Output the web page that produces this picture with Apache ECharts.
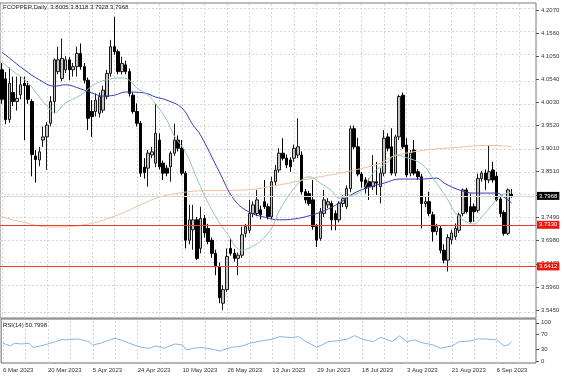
<!DOCTYPE html>
<html>
<head>
<meta charset="utf-8">
<script src="https://cdn.jsdelivr.net/npm/echarts@6/dist/echarts.min.js"></script>
<style>
html, body { margin: 0; padding: 0; background: #fff; }
#chart { width: 564px; height: 376px; }
</style>
</head>
<body>
<div id="chart"></div>
<script>
// daily bars (index 0 = first bar on the left)
var opens = [4.075,4.055,3.965,4.025,4.005,4.020,4.045,4.040,4.005,3.885,3.876,3.920,3.927,3.957,4.005,4.071,4.056,4.075,4.097,4.075,
  4.082,4.111,4.082,4.052,3.983,3.983,3.979,3.986,4.016,4.067,4.126,4.115,4.071,4.086,4.071,4.019,3.983,3.957,3.860,3.858,
  3.887,3.869,3.920,3.869,3.858,3.861,3.891,3.920,3.902,3.847,3.699,3.722,3.744,3.681,3.747,3.725,3.699,3.670,3.641,3.560,
  3.590,3.681,3.670,3.659,3.666,3.714,3.721,3.758,3.758,3.766,3.784,3.773,3.751,3.828,3.854,3.891,3.880,3.876,3.880,3.887,
  3.887,3.806,3.802,3.788,3.729,3.703,3.758,3.777,3.780,3.758,3.744,3.780,3.773,3.813,3.945,3.905,3.845,3.832,3.828,3.817,
  3.828,3.817,3.847,3.927,3.905,3.847,3.927,4.019,3.909,3.847,3.898,3.850,3.839,3.780,3.784,3.755,3.718,3.725,3.677,3.655,
  3.700,3.707,3.721,3.758,3.810,3.773,3.773,3.765,3.835,3.847,3.832,3.854,3.840,3.790,3.760,3.714,3.8005];
var highs = [4.090,4.070,4.080,4.060,4.060,4.060,4.060,4.050,4.010,3.898,3.905,3.950,3.960,4.017,4.100,4.126,4.144,4.105,4.103,4.090,
  4.126,4.133,4.090,4.058,4.008,4.023,4.025,4.040,4.075,4.141,4.192,4.120,4.104,4.095,4.078,4.025,4.001,3.962,3.880,3.898,
  3.905,4.000,3.935,3.875,3.865,3.895,3.956,3.930,3.920,3.852,3.777,3.777,3.750,3.773,3.755,3.735,3.705,3.678,3.650,3.600,
  3.681,3.703,3.680,3.672,3.729,3.735,3.788,3.785,3.810,3.775,3.832,3.780,3.839,3.865,3.902,3.924,3.888,3.882,3.910,3.968,
  3.895,3.812,3.808,3.832,3.735,3.770,3.810,3.792,3.786,3.765,3.785,3.798,3.820,3.952,3.952,3.925,3.850,3.838,3.835,3.887,
  3.872,3.858,3.942,3.935,3.946,3.932,4.020,4.025,3.924,3.898,3.920,3.856,3.845,3.795,3.806,3.762,3.735,3.732,3.690,3.712,
  3.722,3.736,3.760,3.813,3.815,3.802,3.780,3.846,3.852,3.855,3.909,3.872,3.850,3.795,3.765,3.813,3.8118];
var lows = [4.000,3.955,3.958,3.995,3.985,4.010,3.920,4.000,3.840,3.826,3.862,3.905,3.854,3.950,3.979,4.065,4.050,4.068,4.052,4.060,
  4.060,4.075,4.045,3.942,3.927,3.972,3.970,3.980,4.010,4.060,4.108,4.065,4.065,4.065,4.016,3.978,3.950,3.839,3.835,3.817,
  3.880,3.860,3.855,3.832,3.840,3.828,3.885,3.895,3.842,3.681,3.690,3.678,3.655,3.670,3.705,3.690,3.660,3.622,3.560,3.545,
  3.585,3.665,3.652,3.622,3.660,3.705,3.715,3.750,3.752,3.745,3.768,3.745,3.745,3.820,3.848,3.875,3.858,3.850,3.872,3.880,
  3.800,3.780,3.775,3.722,3.684,3.698,3.750,3.770,3.721,3.721,3.738,3.772,3.768,3.805,3.900,3.840,3.815,3.802,3.788,3.810,
  3.799,3.780,3.840,3.895,3.842,3.840,3.920,3.900,3.838,3.840,3.842,3.832,3.725,3.772,3.752,3.696,3.710,3.670,3.648,3.630,
  3.690,3.700,3.715,3.752,3.758,3.738,3.740,3.760,3.828,3.810,3.825,3.826,3.785,3.750,3.709,3.710,3.7928];
var closes = [4.010,3.965,4.045,4.005,4.012,4.042,4.040,4.010,3.888,3.877,3.894,3.927,3.953,4.005,4.097,4.097,4.100,4.097,4.075,4.082,
  4.111,4.082,4.052,3.968,3.972,4.008,4.016,4.030,4.067,4.126,4.115,4.071,4.089,4.071,4.023,3.983,3.957,3.847,3.848,3.891,
  3.894,3.935,3.861,3.847,3.847,3.891,3.920,3.902,3.847,3.699,3.744,3.744,3.659,3.747,3.715,3.696,3.670,3.641,3.572,3.590,
  3.663,3.670,3.659,3.666,3.711,3.729,3.758,3.777,3.788,3.755,3.773,3.751,3.828,3.854,3.891,3.880,3.865,3.861,3.902,3.905,
  3.806,3.788,3.780,3.729,3.699,3.762,3.788,3.784,3.744,3.744,3.780,3.791,3.813,3.945,3.905,3.845,3.829,3.813,3.817,3.828,
  3.825,3.847,3.924,3.902,3.847,3.927,4.016,3.905,3.843,3.891,3.847,3.839,3.780,3.784,3.758,3.718,3.729,3.677,3.655,3.705,
  3.715,3.725,3.755,3.810,3.762,3.740,3.762,3.835,3.847,3.832,3.850,3.832,3.788,3.758,3.714,3.810,3.7968];

// moving averages and RSI, sampled as [bar index, value]
var maFast = [[0,4.092],[3,4.072],[7,4.046],[10,4.015],[13,3.986],[14,3.980],[17,4.002],[21,4.019],[24,4.039],[26,4.048],
  [29,4.055],[32,4.057],[34,4.052],[36,4.035],[39,4.019],[41,4.000],[44,3.964],[46,3.929],[49,3.894],[52,3.836],
  [56,3.766],[60,3.715],[64,3.677],[66,3.682],[69,3.697],[72,3.726],[74,3.764],[77,3.803],[80,3.832],[82,3.839],
  [85,3.825],[88,3.808],[90,3.792],[93,3.797],[96,3.808],[99,3.847],[103,3.872],[105,3.887],[108,3.881],[112,3.867],
  [115,3.836],[119,3.788],[121,3.759],[124,3.739],[126,3.735],[128,3.750],[131,3.779],[133,3.797],[136,3.805]];
var maMid = [[0,4.114],[2,4.101],[6,4.075],[10,4.053],[14,4.039],[17,4.042],[21,4.033],[24,4.024],[27,4.017],[30,4.019],
  [33,4.026],[38,4.024],[41,4.015],[44,4.008],[48,3.991],[51,3.953],[53,3.931],[58,3.850],[62,3.788],[66,3.761],
  [70,3.750],[74,3.744],[78,3.746],[82,3.753],[86,3.764],[90,3.781],[94,3.803],[98,3.816],[102,3.825],[106,3.834],
  [112,3.834],[116,3.836],[118,3.825],[122,3.810],[126,3.803],[132,3.803],[134,3.794],[136,3.781]];
var maSlow = [[0,3.751],[5,3.740],[13,3.728],[22,3.733],[31,3.755],[37,3.777],[42,3.794],[48,3.804],[53,3.808],[65,3.810],
  [74,3.821],[83,3.836],[92,3.850],[101,3.869],[104,3.883],[113,3.898],[122,3.904],[129,3.908],[134,3.907],[136,3.905]];
var rsi = [[0,46.6],[2,39.5],[3,46.6],[5,44.7],[7,46.6],[8,36.0],[10,39.5],[12,44.7],[14,50.8],[16,57.1],
  [17,55.3],[20,57.9],[23,50.8],[24,42.1],[26,46.6],[29,57.1],[30,59.7],[32,53.4],[35,42.1],[37,36.0],
  [39,33.4],[41,39.5],[43,33.4],[46,44.7],[48,42.1],[49,28.9],[51,33.4],[53,36.0],[56,30.8],[58,26.3],
  [61,36.0],[64,39.5],[66,46.6],[69,52.6],[72,57.1],[74,63.9],[77,61.3],[79,63.9],[81,50.8],[84,36.0],
  [87,50.8],[89,52.6],[92,57.1],[94,66.6],[96,57.1],[99,50.8],[101,62.4],[104,50.8],[106,65.8],[108,50.8],
  [110,55.3],[112,48.2],[115,42.1],[117,33.4],[120,39.5],[122,50.8],[125,52.6],[127,57.9],[129,57.9],[132,55.3],
  [134,39.5],[135,42.0],[136,50.8]];

var slotCount = 143;
var tickIndex = [0, 12, 24, 36, 48, 60, 72, 84, 96, 108, 120, 132];
var tickLabels = ['6 Mar 2023', '20 Mar 2023', '5 Apr 2023', '24 Apr 2023', '10 May 2023', '26 May 2023',
  '13 Jun 2023', '29 Jun 2023', '18 Jul 2023', '3 Aug 2023', '21 Aug 2023', '6 Sep 2023'];
var gridCols = [0, 6, 12, 18, 24, 30, 36, 42, 48, 54, 60, 66, 72, 78, 84, 90, 96, 102, 108, 114, 120, 126, 132, 138];
var priceGrid = [3.5450, 3.5960, 3.6470, 3.6980, 3.7490, 3.7990, 3.8510, 3.9010, 3.9520, 4.0030, 4.0540, 4.1050, 4.1560, 4.2070];
var priceLabels = [3.5450, 3.5960, 3.6470, 3.6980, 3.7490, 3.8510, 3.9010, 3.9520, 4.0030, 4.0540, 4.1050, 4.1560, 4.2070];
var rsiLabels = [0, 30, 70, 100];
var levels = [3.7330, 3.6412];
var lastPrice = 3.7968;
var rsiLast = '50.7998';

var FONT = 'Liberation Sans';
var slots = [];
for (var s = 0; s < slotCount; s++) slots.push(String(s));
var candles = opens.map(function (o, i) { return [o, closes[i], lows[i], highs[i]]; });

var gridLine = { color: '#d6d6d6', type: [2, 2], width: 1 };
var vLines = gridCols.map(function (i) { return { xAxis: i }; });
var hLines = priceGrid.map(function (v) { return { yAxis: v }; });

// one empty helper series per horizontal level, each carrying its own line + price box
function levelSeries(name, v, bg, lineColor) {
  return {
    name: name, type: 'line', xAxisIndex: 0, yAxisIndex: 0, data: [], symbol: 'none', z: 4,
    lineStyle: { color: lineColor }, itemStyle: { color: lineColor },
    markLine: {
      silent: true, symbol: 'none', z: 4, animation: false, precision: 4,
      lineStyle: { color: lineColor, type: 'solid', width: 1, opacity: 1 },
      label: {
        show: true, position: 'end', distance: 1, formatter: v.toFixed(4),
        backgroundColor: bg, color: '#fff', padding: [1, 2, 1, 2],
        fontFamily: FONT, fontSize: 6
      },
      data: [{ yAxis: v }]
    }
  };
}

var chart = echarts.init(document.getElementById('chart'));
chart.setOption({
  animation: false,
  backgroundColor: '#fff',
  grid: [
    { left: 0, right: 28, top: 3, height: 315, show: true, borderColor: '#7a7a7a', borderWidth: 1 },
    { left: 0, right: 28, top: 319, height: 44, show: true, borderColor: '#6a6a6a', borderWidth: 1 }
  ],
  xAxis: [
    { type: 'category', gridIndex: 0, data: slots, boundaryGap: true,
      axisLine: { show: false }, axisTick: { show: false }, axisLabel: { show: false }, splitLine: { show: false } },
    { type: 'category', gridIndex: 1, data: slots, boundaryGap: true,
      axisLine: { show: false },
      axisTick: { show: true, alignWithLabel: true, length: 2, lineStyle: { color: '#555' },
        interval: function (i) { return tickIndex.indexOf(i) >= 0; } },
      axisLabel: { show: true, align: 'left', margin: 4, fontFamily: FONT, fontSize: 6, color: '#333',
        interval: function (i) { return tickIndex.indexOf(i) >= 0; },
        formatter: function (v, i) { var k = tickIndex.indexOf(i); return k >= 0 ? tickLabels[k] : ''; } },
      splitLine: { show: false } }
  ],
  yAxis: [
    { type: 'value', gridIndex: 0, position: 'right', min: 3.5274, max: 4.2224, scale: true,
      axisLine: { show: false },
      axisTick: { show: true, length: 3, customValues: priceGrid, lineStyle: { color: '#555' } },
      axisLabel: { show: true, margin: 5, customValues: priceLabels, fontFamily: FONT, fontSize: 6, color: '#333',
        formatter: function (v) { return v.toFixed(4); } },
      splitLine: { show: false } },
    { type: 'value', gridIndex: 1, position: 'right', min: -5, max: 110,
      axisLine: { show: false },
      axisTick: { show: true, length: 3, customValues: rsiLabels, lineStyle: { color: '#555' } },
      axisLabel: { show: true, margin: 5, customValues: rsiLabels, fontFamily: FONT, fontSize: 6, color: '#333' },
      splitLine: { show: false } }
  ],
  graphic: [
    { type: 'text', left: 3, top: 4, z: 100,
      style: { text: 'FCOPPER,Daily  ' + [opens[136], highs[136], lows[136], closes[136]].map(function (v) { return v.toFixed(4); }).join(' '),
        font: '6px "' + FONT + '"', fill: '#222' } },
    { type: 'text', left: 3, top: 322, z: 100,
      style: { text: 'RSI(14) ' + rsiLast, font: '6px "' + FONT + '"', fill: '#222' } }
  ],
  series: [
    { name: 'slow', type: 'line', xAxisIndex: 0, yAxisIndex: 0, data: maSlow, smooth: 0.4, symbol: 'none', z: 3,
      lineStyle: { color: '#efc19c', width: 1 },
      markLine: { silent: true, symbol: 'none', z: 1, animation: false, label: { show: false },
        lineStyle: gridLine, data: vLines.concat(hLines) } },
    { name: 'candles', type: 'candlestick', xAxisIndex: 0, yAxisIndex: 0, data: candles, barWidth: 3, z: 2,
      itemStyle: { color: '#c4c4c4', color0: '#000', borderColor: '#1a1a1a', borderColor0: '#000', borderWidth: 1 } },
    { name: 'mid', type: 'line', xAxisIndex: 0, yAxisIndex: 0, data: maMid, smooth: 0.4, symbol: 'none', z: 3,
      lineStyle: { color: '#3b3bb5', width: 1 } },
    { name: 'fast', type: 'line', xAxisIndex: 0, yAxisIndex: 0, data: maFast, smooth: 0.4, symbol: 'none', z: 3,
      lineStyle: { color: '#92c9ad', width: 1 } },
    levelSeries('last', lastPrice, '#000', '#d6d6d6'),
    levelSeries('level1', levels[0], '#e8180f', '#f03a30'),
    levelSeries('level2', levels[1], '#e8180f', '#f03a30'),
    { name: 'rsi', type: 'line', xAxisIndex: 1, yAxisIndex: 1, data: rsi, symbol: 'none', z: 3,
      lineStyle: { color: '#86b6e4', width: 1 },
      markLine: { silent: true, symbol: 'none', z: 1, animation: false, label: { show: false },
        lineStyle: gridLine, data: vLines } }
  ]
});
</script>
</body>
</html>
